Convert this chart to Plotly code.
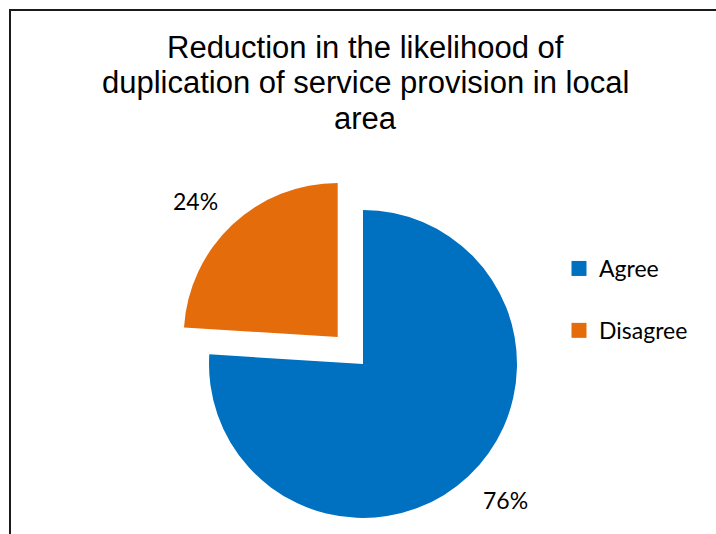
import math
import plotly.graph_objects as go

# Survey responses
categories = ["Agree", "Disagree"]
shares = [76, 24]
colors = ["#0070C0", "#E46C0A"]
title_lines = [
    "Reduction in the likelihood of",
    "duplication of service provision in local",
    "area",
]

W, H = 716, 534
CX, CY, R = 363, 364, 154      # pie centre / radius in pixels
EXPLODE = 0.24                  # Disagree slice pulled out by this fraction of R
LABEL_R = 1.28                  # data-label distance as fraction of R
LABEL_TURN = math.radians(-3)   # small counter-clockwise nudge of the labels


def px_x(x):
    return x / W


def px_y(y):
    return 1 - y / H


total = sum(shares)
fracs = [v / total for v in shares]
# mid angle of each slice, clockwise from 12 o'clock
mids = []
acc = 0.0
for f in fracs:
    mids.append((acc + f / 2) * 2 * math.pi)
    acc += f


def unit(theta):
    return math.sin(theta), -math.cos(theta)


# centre of the exploded Disagree slice
ux, uy = unit(mids[1])
ocx, ocy = CX + ux * EXPLODE * R, CY + uy * EXPLODE * R
centres = [(CX, CY), (ocx, ocy)]

fig = go.Figure()

for k, (cx, cy) in enumerate(centres):
    slice_colors = [c if i == k else "rgba(0,0,0,0)" for i, c in enumerate(colors)]
    fig.add_trace(go.Pie(
        labels=categories,
        values=shares,
        sort=False,
        direction="clockwise",
        rotation=0,
        marker=dict(colors=slice_colors, line=dict(width=0)),
        textinfo="none",
        hoverinfo="label+percent",
        showlegend=False,
        domain=dict(x=[px_x(cx - R), px_x(cx + R)],
                    y=[px_y(cy + R), px_y(cy - R)]),
    ))

# legend entries
for i, (name, c) in enumerate(zip(categories, colors)):
    fig.add_trace(go.Scatter(
        x=[None], y=[None], mode="markers", name=name,
        marker=dict(symbol="square", size=15, color=c, line=dict(width=0)),
        legendgroup=name,
    ))

annotations = []
# percentage labels
for i, (cx, cy) in enumerate(centres):
    dx, dy = unit(mids[i] + LABEL_TURN)
    lx, ly = cx + dx * LABEL_R * R, cy + dy * LABEL_R * R
    annotations.append(dict(
        x=px_x(lx), y=px_y(ly), xref="paper", yref="paper",
        text=f"{round(fracs[i] * 100)}%", showarrow=False,
        xanchor="center", yanchor="middle",
        font=dict(family="Lato", size=23, color="#000000"),
    ))

# chart title, one annotation per line
title_baselines = [59, 94.5, 130]
for line, yb in zip(title_lines, title_baselines):
    annotations.append(dict(
        x=px_x(365), y=px_y(yb + 8), xref="paper", yref="paper",
        text=line, showarrow=False, xanchor="center", yanchor="bottom",
        font=dict(family="Liberation Sans, Arial", size=31, color="#000000"),
    ))

fig.update_layout(
    width=W, height=H,
    margin=dict(l=0, r=0, t=0, b=0),
    paper_bgcolor="white", plot_bgcolor="white",
    xaxis=dict(visible=False), yaxis=dict(visible=False),
    annotations=annotations,
    legend=dict(
        x=px_x(559), y=px_y(247), xanchor="left", yanchor="top",
        font=dict(family="Lato", size=23, color="#000000"),
        tracegroupgap=29, traceorder="grouped",
        bgcolor="rgba(0,0,0,0)",
    ),
    shapes=[dict(
        type="rect", xref="paper", yref="paper",
        x0=px_x(10), y0=-0.05, x1=1.05, y1=px_y(10),
        line=dict(color="#1a1a1a", width=2), layer="above",
    )],
)

fig.write_html("out.html")
